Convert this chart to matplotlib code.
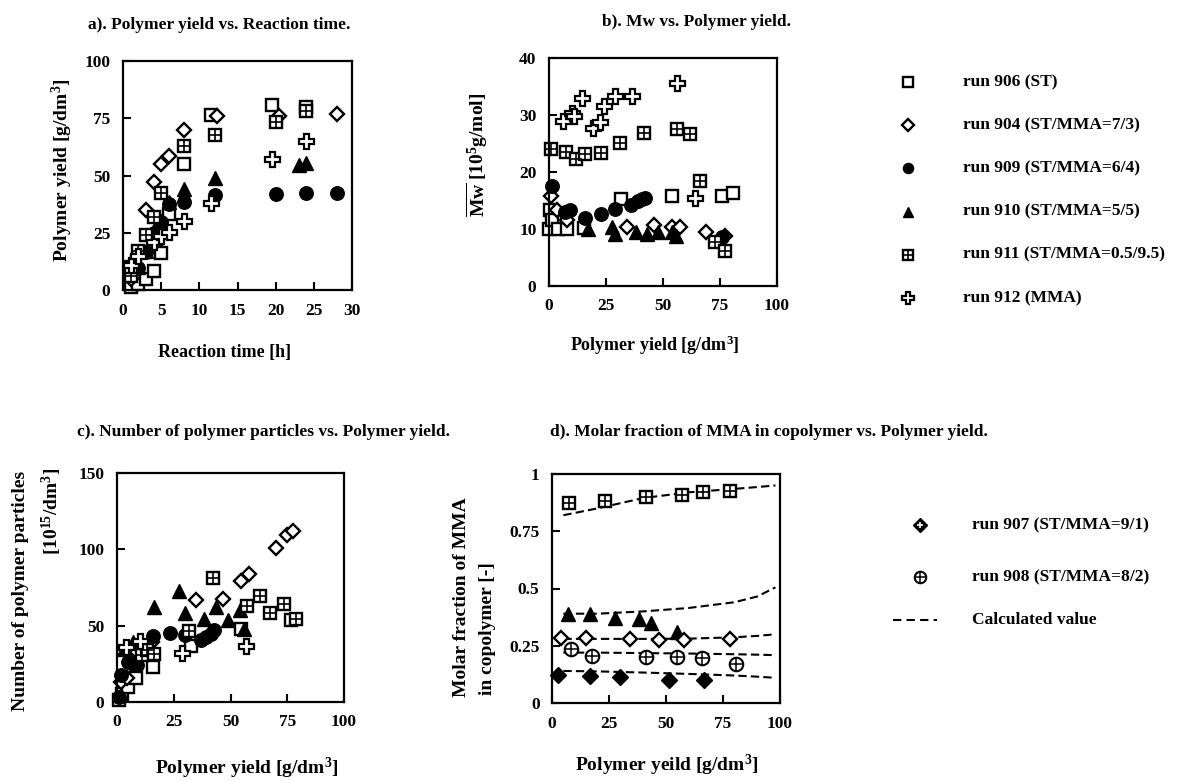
import matplotlib
matplotlib.use('Agg')
import matplotlib.pyplot as plt

plt.rcParams['font.family'] = ['Liberation Serif', 'DejaVu Serif']
plt.rcParams['font.weight'] = 'bold'
plt.rcParams['mathtext.fontset'] = 'custom'
plt.rcParams['mathtext.rm'] = 'Liberation Serif:bold'
plt.rcParams['mathtext.bf'] = 'Liberation Serif:bold'
plt.rcParams['mathtext.it'] = 'Liberation Serif:bold:italic'
plt.rcParams['mathtext.default'] = 'rm'

# ---------------- data ----------------
# a) Polymer yield vs reaction time
a906_t = [1, 2, 3, 4, 5, 6, 8, 11.5, 19.5, 24]
a906_y = [1.5, 2.5, 5, 8.5, 16, 33, 55, 76.5, 81, 80]
a904_t = [1, 2, 3, 4, 5, 6, 8, 12.3, 20.5, 28]
a904_y = [5, 15, 35, 47, 55, 58.5, 70, 76, 76, 77]
a909_t = [1, 2, 3, 4, 5, 6, 8, 12, 20, 24, 28]
a909_y = [8, 9.5, 16.5, 25, 29.5, 37.5, 38.5, 41.5, 42, 42.5, 42.5]
a910_t = [2, 3, 4, 5, 6, 8, 12, 23, 24]
a910_y = [10, 17, 26, 30, 38.5, 44, 49, 54.5, 55.5]
a911_t = [1, 1, 2, 3, 4, 5, 8, 12, 20, 24]
a911_y = [6, 10, 17, 24, 32, 42.5, 63, 67.5, 73.5, 78]
a912_t = [1, 2, 4, 5, 6, 8, 11.5, 19.5, 24]
a912_y = [11, 15, 21, 23.5, 25.5, 30, 38, 57, 65]

# b) Mw vs polymer yield
b906_x = [0, 0.4, 1.5, 4, 8, 15.5, 31.5, 54, 76, 80.5]
b906_y = [10, 13.3, 11.5, 10, 10, 10.1, 15.2, 15.8, 15.8, 16.3]
b904_x = [1, 3.5, 8, 34, 46, 54, 57.5, 69, 77]
b904_y = [15.8, 13.3, 11.6, 10.3, 10.7, 10.3, 10.3, 9.4, 8.7]
b909_x = [1.5, 7, 9.2, 15.6, 23, 29, 36, 39, 41, 42, 76]
b909_y = [17.6, 13, 13.3, 12, 12.6, 13.5, 14.2, 14.9, 15.3, 15.5, 8.6]
b910_x = [17, 27.5, 29, 38, 43, 48, 54, 55.5]
b910_y = [10, 10.4, 9.1, 9.4, 9.2, 9.4, 9.4, 8.8]
b911_x = [0.7, 7.3, 11.7, 15.8, 23, 31, 41.7, 56.3, 62, 66.2, 72.7, 77.2]
b911_y = [24, 23.5, 22.2, 23.2, 23.4, 25, 26.9, 27.6, 26.6, 18.5, 7.7, 6.1]
b912_x = [6, 10, 11, 14.6, 19.5, 22.5, 24, 28.8, 36.3, 56, 64]
b912_y = [28.9, 30.3, 29.9, 33, 27.8, 28.7, 31.6, 33.3, 33.3, 35.6, 15.5]

# c) Number of polymer particles vs polymer yield
c906_x = [0.7, 2.2, 5, 8.5, 16, 32.5, 54.5, 76.5]
c906_y = [1, 5.5, 9.5, 16, 23, 36.5, 47.5, 54]
c904_x = [1.8, 4.4, 8.8, 15.4, 34.6, 46.8, 54.7, 58, 70, 75, 77.5]
c904_y = [13, 15.5, 32.5, 39.5, 66.5, 67.7, 79, 84, 101, 109.5, 112]
c909_x = [1, 1.8, 5, 7, 8.8, 15.9, 23.5, 29.9, 36.8, 39.4, 41.2, 42.6]
c909_y = [3, 18, 26, 25, 24.5, 43.5, 45.5, 43.7, 40.8, 42.6, 44.8, 47]
c910_x = [3.2, 7, 16.5, 27.5, 30, 38.2, 43.4, 49, 54, 56]
c910_y = [35, 39.5, 62, 73, 58, 54.6, 62, 54, 60, 47.5]
c911_x = [11, 13.2, 16.2, 31.6, 42.2, 57.4, 62.9, 67.4, 73.5, 79]
c911_y = [31, 33.8, 31.7, 46.5, 81, 63, 69.5, 58.5, 64, 54.6]
c912_x = [4, 10.3, 28.7, 57]
c912_y = [36, 40, 32, 37]

# d) Molar fraction of MMA in copolymer vs polymer yield
d911_x = [7.4, 23.2, 41.2, 57, 66.2, 78]
d911_y = [0.872, 0.883, 0.898, 0.909, 0.92, 0.924]
d910_x = [7, 16.5, 27.5, 38, 43.5, 55]
d910_y = [0.39, 0.387, 0.372, 0.365, 0.35, 0.31]
d904_x = [4, 15, 34.3, 46.8, 58, 78]
d904_y = [0.285, 0.285, 0.28, 0.274, 0.277, 0.28]
d908_x = [8.4, 17.4, 41.2, 55, 66, 80.5]
d908_y = [0.234, 0.204, 0.201, 0.201, 0.197, 0.172]
d907_x = [2.5, 16.5, 29.7, 51.2, 66.5]
d907_y = [0.121, 0.117, 0.114, 0.102, 0.099]

calc_x = [5, 20, 40, 60, 80, 90, 98]
calc911 = [0.82, 0.85, 0.895, 0.92, 0.935, 0.943, 0.95]
calc910 = [0.39, 0.39, 0.40, 0.415, 0.44, 0.465, 0.505]
calc904 = [0.28, 0.28, 0.28, 0.281, 0.287, 0.293, 0.30]
calc908 = [0.22, 0.22, 0.218, 0.216, 0.213, 0.211, 0.209]
calc907 = [0.14, 0.138, 0.133, 0.127, 0.12, 0.115, 0.11]

legend_labels = ['run 906 (ST)', 'run 904 (ST/MMA=7/3)', 'run 909 (ST/MMA=6/4)',
                 'run 910 (ST/MMA=5/5)', 'run 911 (ST/MMA=0.5/9.5)', 'run 912 (MMA)']
legend_d_labels = ['run 907 (ST/MMA=9/1)', 'run 908 (ST/MMA=8/2)', 'Calculated value']

# ---------------- style ----------------
W, H = 1194, 781
fig = plt.figure(figsize=(W / 100, H / 100), dpi=100)
fig.patch.set_facecolor('white')

TICK_FS = 12.5
LAB_FS = 14
TITLE_FS = 12.5
MS = 1.08


def add_ax(l, t, r, b):
    return fig.add_axes([l / W, 1 - b / H, (r - l) / W, (b - t) / H])


def draw(ax, key, x, y, scale=1.0):
    k = dict(ls='none', clip_on=False)
    s = scale * MS
    if key == '906':
        ax.plot(x, y, marker='s', ms=8.5 * s, mfc='white', mec='black', mew=1.7, **k)
    elif key == '904':
        ax.plot(x, y, marker='D', ms=7.0 * s, mfc='white', mec='black', mew=1.7, **k)
    elif key == '909':
        ax.plot(x, y, marker='o', ms=9.0 * s, mfc='black', mec='black', mew=1.0, **k)
    elif key == '910':
        ax.plot(x, y, marker='^', ms=9.5 * s, mfc='black', mec='black', mew=1.0, **k)
    elif key == '911':
        ax.plot(x, y, marker='s', ms=8.5 * s, mfc='white', mec='black', mew=1.7, **k)
        ax.plot(x, y, marker='+', ms=8.5 * s, mec='black', mew=1.2, **k)
    elif key == '912':
        ax.plot(x, y, marker='P', ms=10.0 * s, mfc='white', mec='black', mew=1.6, **k)
    elif key == '907':
        ax.plot(x, y, marker='D', ms=7.5 * s, mfc='black', mec='black', mew=1.0, **k)
    elif key == '908':
        ax.plot(x, y, marker='o', ms=9.0 * s, mfc='white', mec='black', mew=1.5, **k)
        ax.plot(x, y, marker='+', ms=9.0 * s, mec='black', mew=1.1, **k)


def style(ax, xlim, xticks, ylim, yticks, yticklabels=None):
    ax.set_xlim(*xlim)
    ax.set_ylim(*ylim)
    ax.set_xticks(xticks)
    ax.set_yticks(yticks)
    if yticklabels is not None:
        ax.set_yticklabels(yticklabels)
    ax.tick_params(direction='in', length=6, width=1.5, labelsize=TICK_FS, pad=9)
    for sp in ax.spines.values():
        sp.set_linewidth(1.6)
    for lab in ax.get_xticklabels() + ax.get_yticklabels():
        lab.set_fontweight('bold')


def ftext(x, y, s, **kw):
    fig.text(x / W, 1 - y / H, s, **kw)


# ---------------- panel a ----------------
ax = add_ax(123, 61, 352, 290)
style(ax, (0, 30), [0, 5, 10, 15, 20, 25, 30], (0, 100), [0, 25, 50, 75, 100])
draw(ax, '906', a906_t, a906_y)
draw(ax, '904', a904_t, a904_y)
draw(ax, '909', a909_t, a909_y)
draw(ax, '910', a910_t, a910_y)
draw(ax, '911', a911_t, a911_y)
draw(ax, '912', a912_t, a912_y)
ftext(219, 25, 'a). Polymer yield vs. Reaction time.', ha='center', va='center', fontsize=TITLE_FS, fontweight='bold')
ftext(62, 170, 'Polymer yield [g/dm$^{3}$]', rotation=90, ha='center', va='center', fontsize=LAB_FS, fontweight='bold')
ftext(225, 353, 'Reaction time [h]', ha='center', va='center', fontsize=LAB_FS - 1, fontweight='bold')

# ---------------- panel b ----------------
ax = add_ax(549, 58, 777, 286)
style(ax, (0, 100), [0, 25, 50, 75, 100], (0, 40), [0, 10, 20, 30, 40])
draw(ax, '906', b906_x, b906_y)
draw(ax, '904', b904_x, b904_y)
draw(ax, '909', b909_x, b909_y)
draw(ax, '910', b910_x, b910_y)
draw(ax, '911', b911_x, b911_y)
draw(ax, '912', b912_x, b912_y)
ftext(696, 22, 'b). Mw vs. Polymer yield.', ha='center', va='center', fontsize=TITLE_FS, fontweight='bold')
ftext(477, 155, r'$\overline{\mathrm{Mw}}$ [10$^{5}$g/mol]', rotation=90, ha='center', va='center', fontsize=LAB_FS, fontweight='bold')
ftext(655, 345, 'Polymer yield [g/dm$^{3}$]', ha='center', va='center', fontsize=LAB_FS - 1, fontweight='bold')

# ---------------- panel c ----------------
ax = add_ax(117, 473, 344, 702)
style(ax, (0, 100), [0, 25, 50, 75, 100], (0, 150), [0, 50, 100, 150])
draw(ax, '906', c906_x, c906_y)
draw(ax, '904', c904_x, c904_y)
draw(ax, '909', c909_x, c909_y)
draw(ax, '910', c910_x, c910_y)
draw(ax, '911', c911_x, c911_y)
draw(ax, '912', c912_x, c912_y)
ftext(77, 432, 'c). Number of polymer particles vs. Polymer yield.', ha='left', va='center', fontsize=TITLE_FS, fontweight='bold')
ftext(21, 591, 'Number of polymer particles', rotation=90, ha='center', va='center', fontsize=LAB_FS, fontweight='bold')
ftext(52, 511, '[10$^{15}$/dm$^{3}$]', rotation=90, ha='center', va='center', fontsize=LAB_FS, fontweight='bold')
ftext(247, 768, 'Polymer yield [g/dm$^{3}$]', ha='center', va='center', fontsize=LAB_FS, fontweight='bold')

# ---------------- panel d ----------------
ax = add_ax(552, 474, 780, 703)
style(ax, (0, 100), [0, 25, 50, 75, 100], (0, 1), [0, 0.25, 0.5, 0.75, 1],
      ['0', '0.25', '0.5', '0.75', '1'])
for cy in (calc911, calc910, calc904, calc908, calc907):
    ax.plot(calc_x, cy, color='black', lw=1.5, ls=(0, (4, 2)))
draw(ax, '911', d911_x, d911_y)
draw(ax, '910', d910_x, d910_y)
draw(ax, '904', d904_x, d904_y)
draw(ax, '908', d908_x, d908_y)
draw(ax, '907', d907_x, d907_y)
ftext(550, 432, 'd). Molar fraction of MMA in copolymer vs. Polymer yield.', ha='left', va='center', fontsize=TITLE_FS, fontweight='bold')
ftext(462, 597, 'Molar fraction of MMA', rotation=90, ha='center', va='center', fontsize=LAB_FS, fontweight='bold')
ftext(487, 629, 'in copolymer [-]', rotation=90, ha='center', va='center', fontsize=LAB_FS, fontweight='bold')
ftext(667, 765, 'Polymer yeild [g/dm$^{3}$]', ha='center', va='center', fontsize=LAB_FS, fontweight='bold')

# ---------------- legends (overlay in pixel coordinates) ----------------
ov = fig.add_axes([0, 0, 1, 1])
ov.set_xlim(0, W)
ov.set_ylim(H, 0)
ov.axis('off')
keys = ['906', '904', '909', '910', '911', '912']
for i, (k, lab) in enumerate(zip(keys, legend_labels)):
    yy = 82 + 43.2 * i
    draw(ov, k, [908], [yy], scale=0.75)
    ov.text(963, yy, lab, ha='left', va='center', fontsize=12.5, fontweight='bold')

draw(ov, '907', [920], [525], scale=0.85)
ov.plot([920], [525], marker='+', ms=5, mec='white', mew=1.2, ls='none')
ov.text(972, 525, legend_d_labels[0], ha='left', va='center', fontsize=12.5, fontweight='bold')
draw(ov, '908', [920], [577], scale=0.85)
ov.text(972, 577, legend_d_labels[1], ha='left', va='center', fontsize=12.5, fontweight='bold')
ov.plot([893, 937], [620, 620], color='black', lw=1.5, ls=(0, (4, 2.5)))
ov.text(972, 620, legend_d_labels[2], ha='left', va='center', fontsize=12.5, fontweight='bold')

fig.savefig('out.png', dpi=100, facecolor='white')
